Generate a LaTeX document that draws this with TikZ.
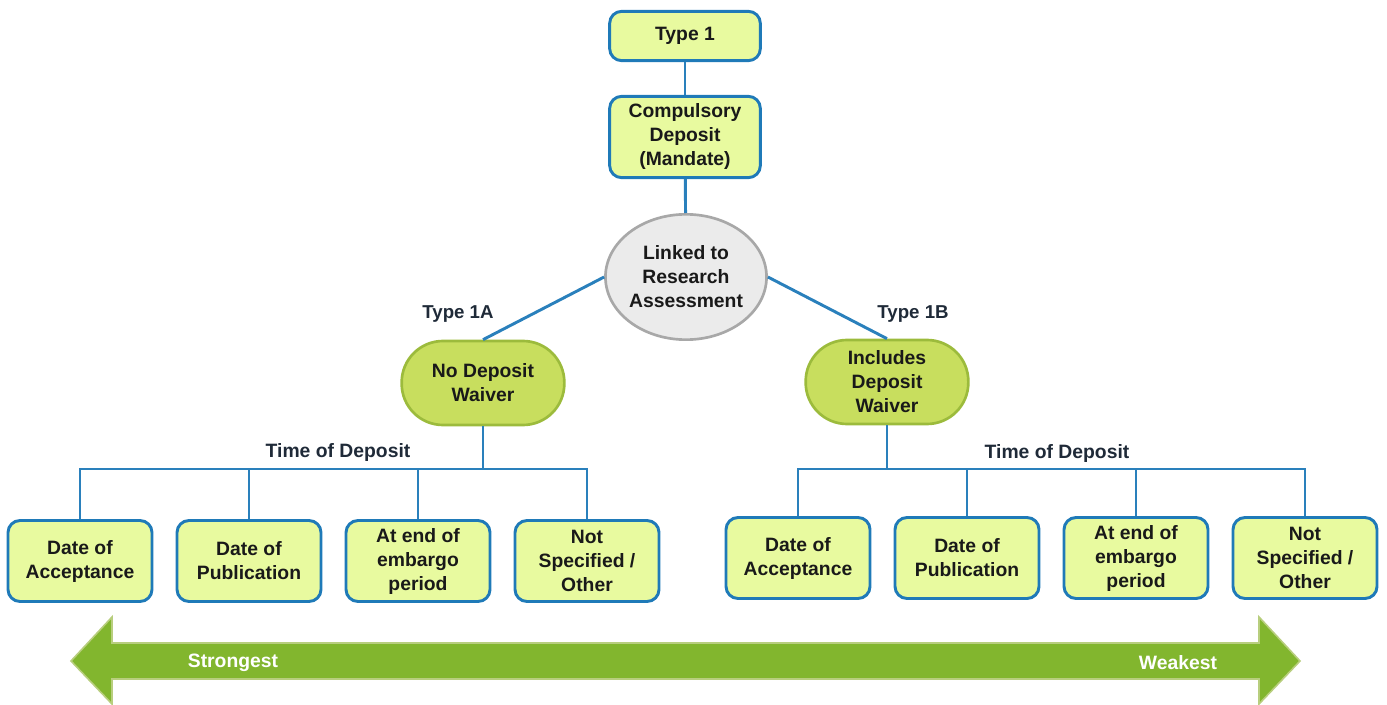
\documentclass[tikz,border=0pt]{standalone}
\usepackage{fontspec}
\setmainfont{Liberation Sans}
\usetikzlibrary{shapes.geometric}
\definecolor{boxfill}{HTML}{E8FA9F}
\definecolor{boxline}{HTML}{1F7AB8}
\definecolor{linkblue}{HTML}{2A80BC}
\definecolor{ellfill}{HTML}{EBEBEB}
\definecolor{ellline}{HTML}{A8A8A8}
\definecolor{waivfill}{HTML}{C8DE5E}
\definecolor{waivline}{HTML}{9CBB3C}
\definecolor{arrfill}{HTML}{82B62E}
\definecolor{arrline}{HTML}{B8CE7E}
\definecolor{labtext}{HTML}{1F2A38}
\tikzset{
  txt/.style={font=\fontsize{14.5}{18}\selectfont\bfseries, text=black!90, align=center},
  ybox/.style={txt, draw=boxline, fill=boxfill, line width=2.2pt, rounded corners=9pt, inner sep=0pt},
  leaf/.style={ybox, minimum width=108pt, minimum height=60.75pt},
  waiv/.style={txt, draw=waivline, fill=waivfill, line width=2pt, rounded corners=31pt, minimum width=122pt, minimum height=63pt, inner sep=0pt},
  link/.style={draw=linkblue, line width=2.2pt},
  lab/.style={font=\fontsize{14}{17}\selectfont\bfseries, text=labtext},
}
\begin{document}
\begin{tikzpicture}[x=0.75pt, y=-0.75pt]
\useasboundingbox (0,0) rectangle (1387,705);
% top
\node[ybox, minimum width=113pt, minimum height=37pt] (t1) at (685,36) {Type 1};
\node[ybox, minimum width=113pt, minimum height=61pt] (cd) at (685,137) {Compulsory\\Deposit\\(Mandate)};
\node[txt, ellipse, draw=ellline, fill=ellfill, line width=2pt, minimum width=112pt, minimum height=94pt, inner sep=0pt] (ell) at (686,277) {Linked to\\Research\\Assessment};
\node[waiv] (ndw) at (483,383) {No Deposit\\Waiver};
\node[waiv] (idw) at (887,382) {Includes\\Deposit\\Waiver};
\node[lab] (l1a) at (458,314) {Type 1A};
\node[lab] (l1b) at (913,314) {Type 1B};
\node[lab, font=\fontsize{14.5}{17}\selectfont\bfseries] (tl) at (338,453) {Time of Deposit};
\node[lab, font=\fontsize{14.5}{17}\selectfont\bfseries] (tr) at (1057,454) {Time of Deposit};
% leaves left
\node[leaf] (a1) at (80,561) {Date of\\Acceptance};
\node[leaf] (a2) at (249,561) {Date of\\Publication};
\node[leaf] (a3) at (418,561) {At end of\\embargo\\period};
\node[leaf] (a4) at (587,561) {Not\\Specified /\\Other};
% leaves right
\node[leaf] (b1) at (798,558) {Date of\\Acceptance};
\node[leaf] (b2) at (967,558) {Date of\\Publication};
\node[leaf] (b3) at (1136,558) {At end of\\embargo\\period};
\node[leaf] (b4) at (1305,558) {Not\\Specified /\\Other};
\coordinate (lbus) at (483,469);
\coordinate (rbus) at (887,469);
% connectors
\draw[link] (t1) -- (cd);
\draw[link] (cd) -- (ell);
\draw[link] (ell.west) -- (ndw.north);
\draw[link] (ell.east) -- (idw.north);
\draw[link] (ndw.south) -- (lbus);
\draw[link] (idw.south) -- (rbus);
\draw[link, line cap=rect] (a1.north |- lbus) -- (a4.north |- lbus);
\draw[link, line cap=rect] (b1.north |- rbus) -- (b4.north |- rbus);
\foreach \n in {a1,a2,a3,a4}{\draw[link] (\n.north) -- (\n.north |- lbus);}
\foreach \n in {b1,b2,b3,b4}{\draw[link] (\n.north) -- (\n.north |- rbus);}
% arrow
\draw[fill=arrfill, draw=arrline, line width=1.2pt]
  (71,661) -- (112,617) -- (112,643) -- (1259,643) -- (1259,617) -- (1300,661)
  -- (1259,704) -- (1259,679) -- (112,679) -- (112,704) -- cycle;
\node[txt, text=white] (str) at (233,663) {Strongest};
\node[txt, text=white] (wk) at (1178,663) {Weakest};
\end{tikzpicture}
\end{document}
